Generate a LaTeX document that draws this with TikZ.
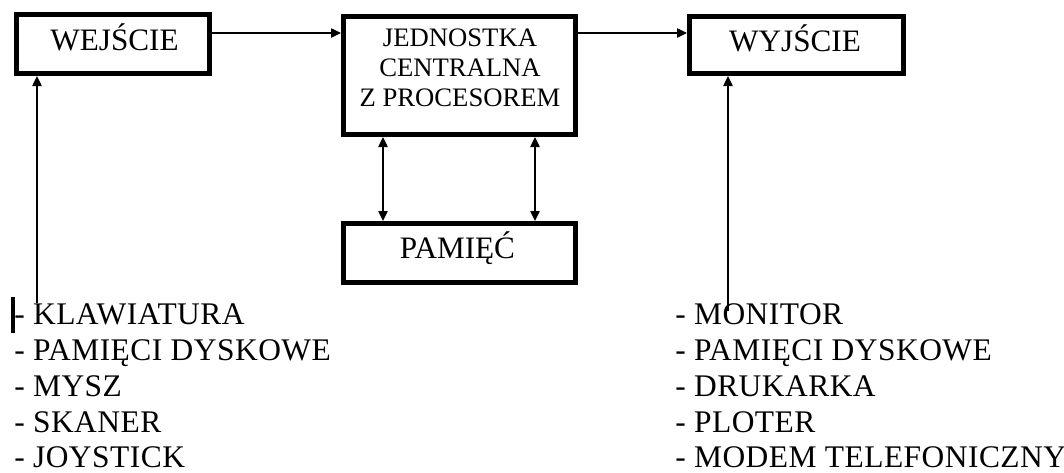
\documentclass[tikz,border=0pt]{standalone}
\usepackage{fontspec}
\setmainfont{Liberation Serif}
\newfontfamily\listfont[LetterSpace=1.5]{Liberation Serif}
\usetikzlibrary{arrows.meta}
\begin{document}
\begin{tikzpicture}[x=0.75pt,y=-0.75pt,
  box/.style={draw,line width=3.75pt,inner sep=0pt,minimum width=#1},
  lbl/.style={anchor=base,inner sep=0pt,font=\fontsize{23.4pt}{28pt}\selectfont},
  small/.style={anchor=base,inner sep=0pt,font=\fontsize{20pt}{24pt}\selectfont},
  item/.style={anchor=base west,inner sep=0pt,font=\listfont\fontsize{23.6pt}{28pt}\selectfont},
  conn/.style={line width=1pt,-{Triangle[length=7.5pt,width=7pt]}},
  biconn/.style={line width=1pt,{Triangle[length=7.5pt,width=7pt]}-{Triangle[length=7.5pt,width=7pt]}}]
\useasboundingbox (0,0) rectangle (1064,472);
% boxes
\node[box=193*0.75pt,minimum height=59*0.75pt] (wej) at (113,44) {};
\node[box=232*0.75pt,minimum height=118*0.75pt] (cpu) at (459.5,75.5) {};
\node[box=214*0.75pt,minimum height=57*0.75pt] (wyj) at (796.5,45) {};
\node[box=232*0.75pt,minimum height=59*0.75pt] (pam) at (459.5,253) {};
% box labels
\node[lbl] (wejt) at (114.5,50) {WEJŚCIE};
\node[small] (cpu1) at (460,46) {JEDNOSTKA};
\node[small] (cpu2) at (460,76) {CENTRALNA};
\node[small] (cpu3) at (460,106) {Z PROCESOREM};
\node[lbl] (wyjt) at (795,51) {WYJŚCIE};
\node[lbl] (pamt) at (457.5,258) {PAMIĘĆ};
% lists
\node[item] (l1) at (14,324) {- KLAWIATURA};
\node[item] (l2) at (14,360) {- PAMIĘCI DYSKOWE};
\node[item] (l3) at (14,396) {- MYSZ};
\node[item] (l4) at (14,432) {- SKANER};
\node[item] (l5) at (14,467) {- JOYSTICK};
\node[item] (r1) at (675,324) {- MONITOR};
\node[item] (r2) at (675,360) {- PAMIĘCI DYSKOWE};
\node[item] (r3) at (675,396) {- DRUKARKA};
\node[item] (r4) at (675,432) {- PLOTER};
\node[item] (r5) at (675,467) {- MODEM TELEFONICZNY};
% helper coordinates
\coordinate (top) at (0,33);
\coordinate (inx) at (37,303);
\coordinate (outx) at (728,311);
\coordinate (m1) at (383,0);
\coordinate (m2) at (535,0);
% connectors
\draw[conn] (inx) -- (wej.south -| inx);
\draw[conn] (outx) -- (wyj.south -| outx);
\draw[conn] (wej.east |- top) -- (cpu.west |- top);
\draw[conn] (cpu.east |- top) -- (wyj.west |- top);
\draw[biconn] (cpu.south -| m1) -- (pam.north -| m1);
\draw[biconn] (cpu.south -| m2) -- (pam.north -| m2);
% cursor bar
\draw[line width=3pt] (13,297) -- (13,333);
\end{tikzpicture}
\end{document}
